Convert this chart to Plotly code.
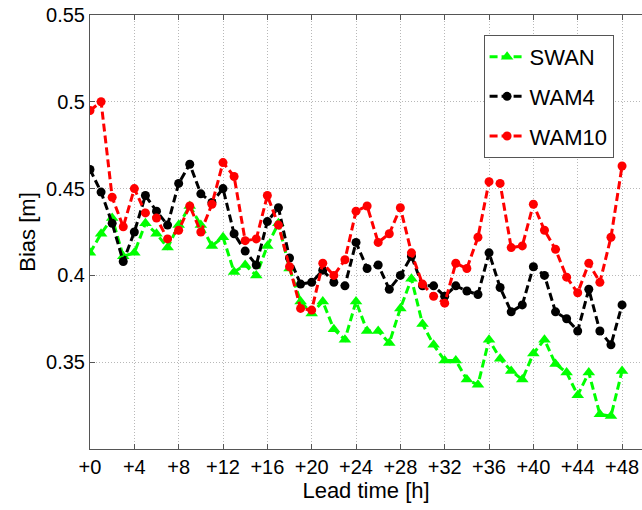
import plotly.graph_objects as go

# Lead times (hours) and mean bias of significant wave height for each model
lead_hours = list(range(0, 49))

swan = [0.413, 0.424, 0.433, 0.411, 0.413, 0.430, 0.424, 0.416, 0.429, 0.440,
        0.429, 0.417, 0.422, 0.402, 0.406, 0.400, 0.417, 0.430, 0.404, 0.385,
        0.378, 0.385, 0.369, 0.363, 0.385, 0.368, 0.368, 0.361, 0.381, 0.398,
        0.372, 0.360, 0.351, 0.351, 0.340, 0.337, 0.363, 0.352, 0.345, 0.340,
        0.355, 0.363, 0.349, 0.344, 0.331, 0.344, 0.320, 0.319, 0.345]

wam4 = [0.461, 0.448, 0.430, 0.408, 0.425, 0.446, 0.437, 0.429, 0.453, 0.464,
        0.447, 0.442, 0.450, 0.424, 0.414, 0.406, 0.431, 0.439, 0.410, 0.395,
        0.396, 0.403, 0.396, 0.394, 0.419, 0.404, 0.406, 0.392, 0.400, 0.411,
        0.394, 0.394, 0.388, 0.394, 0.391, 0.389, 0.413, 0.393, 0.379, 0.383,
        0.405, 0.400, 0.379, 0.375, 0.368, 0.392, 0.368, 0.360, 0.383]

wam10 = [0.495, 0.500, 0.445, 0.428, 0.450, 0.436, 0.433, 0.421, 0.426, 0.440,
         0.425, 0.441, 0.465, 0.457, 0.420, 0.421, 0.446, 0.429, 0.405, 0.381,
         0.380, 0.407, 0.400, 0.409, 0.437, 0.440, 0.419, 0.424, 0.439, 0.413,
         0.395, 0.388, 0.384, 0.407, 0.404, 0.422, 0.454, 0.453, 0.416, 0.417,
         0.441, 0.426, 0.415, 0.399, 0.390, 0.407, 0.396, 0.422, 0.463]

x_tick_vals = list(range(0, 49, 4))
x_tick_text = ["+%d" % v for v in x_tick_vals]
y_tick_vals = [0.35, 0.40, 0.45, 0.50, 0.55]
y_tick_text = ["0.35", "0.4", "0.45", "0.5", "0.55"]

FONT = "Liberation Sans, Arial, Helvetica, sans-serif"

series = [
    ("SWAN", swan, "rgb(0,255,0)", "triangle-up", 11),
    ("WAM4", wam4, "black", "circle", 9),
    ("WAM10", wam10, "rgb(255,0,0)", "circle", 9),
]

fig = go.Figure()
for i, (name, vals, color, symbol, msize) in enumerate(series):
    fig.add_trace(go.Scatter(
        x=lead_hours, y=vals, name=name, mode="lines+markers",
        legendgroup="g%d" % i,
        line=dict(color=color, width=3, dash="8px,4px"),
        marker=dict(color=color, symbol=symbol, size=msize, line=dict(width=0)),
    ))

axis_common = dict(
    showline=True, linecolor="#555555", linewidth=1,
    ticks="inside", ticklen=5, tickcolor="#555555",
    showgrid=True, gridcolor="#b8b8b8", gridwidth=1, griddash="1px,2px",
    zeroline=False,
    tickfont=dict(family=FONT, size=20, color="black"),
)

fig.update_layout(
    width=642, height=510,
    margin=dict(l=90, r=0, t=15, b=61),
    paper_bgcolor="white", plot_bgcolor="white",
    font=dict(family=FONT, color="black"),
    showlegend=True,
    legend=dict(
        x=0.713, y=0.954, xanchor="left", yanchor="top",
        bgcolor="white", bordercolor="#555555", borderwidth=1,
        font=dict(family=FONT, size=22, color="black"),
        tracegroupgap=8, itemwidth=35,
    ),
)

fig.update_xaxes(
    range=[0, 49.8], tickvals=x_tick_vals, ticktext=x_tick_text,
    mirror="ticks",
    title=dict(text="Lead time [h]", font=dict(family=FONT, size=22), standoff=4),
    **axis_common,
)
fig.update_yaxes(
    range=[0.3, 0.55], tickvals=y_tick_vals, ticktext=y_tick_text,
    title=dict(text="Bias [m]", font=dict(family=FONT, size=22), standoff=4),
    **axis_common,
)

fig.write_html("out.html")
